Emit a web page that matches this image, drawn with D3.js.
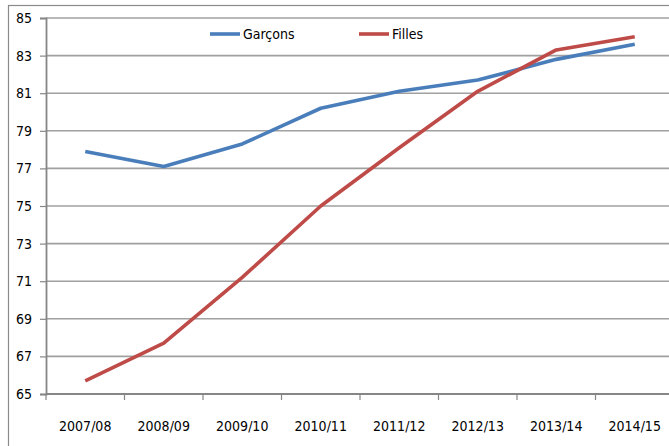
<!DOCTYPE html>
<html>
<head>
<meta charset="utf-8">
<script src="https://cdn.jsdelivr.net/npm/d3@7"></script>
<style>
  html, body { margin: 0; padding: 0; background: #fff; overflow: hidden; }
  svg text { font-family: "DejaVu Sans Condensed", "DejaVu Sans", sans-serif; font-stretch: condensed; font-size: 14px; fill: #000; }
</style>
</head>
<body>
<div id="chart"></div>
<script>
const years = ["2007/08", "2008/09", "2009/10", "2010/11", "2011/12", "2012/13", "2013/14", "2014/15"];
const garcons = [77.9, 77.1, 78.3, 80.2, 81.1, 81.7, 82.8, 83.6];
const filles = [65.7, 67.7, 71.2, 75.0, 78.1, 81.1, 83.3, 84.0];
const yTicks = [65, 67, 69, 71, 73, 75, 77, 79, 81, 83, 85];
const seriesNames = ["Garçons", "Filles"];
const colors = ["#4a7ebb", "#be4b48"];

const width = 669, height = 446;
const margin = { top: 18, right: -5, bottom: 52, left: 46 };

const svg = d3.select("#chart").append("svg").attr("width", width).attr("height", height);

// outer chart frame
svg.append("rect")
  .attr("x", 8.5).attr("y", 5.5)
  .attr("width", width + 10).attr("height", height + 10)
  .attr("fill", "none").attr("stroke", "#8a8a8a").attr("stroke-width", 1.2);

const x = d3.scaleBand().domain(years).range([margin.left, width - margin.right]);
const y = d3.scaleLinear().domain([65, 85]).range([height - margin.bottom, margin.top]);

// gridlines
svg.append("g")
  .selectAll("line")
  .data(yTicks.slice(1))
  .join("line")
  .attr("x1", margin.left).attr("x2", width - margin.right)
  .attr("y1", (d) => y(d)).attr("y2", (d) => y(d))
  .attr("stroke", "#a0a0a0").attr("stroke-width", 1.6);

// y axis
const yAxis = svg.append("g")
  .attr("transform", `translate(${margin.left},0)`)
  .call(d3.axisLeft(y).tickValues(yTicks).tickSize(6).tickPadding(8));
yAxis.select(".domain").attr("stroke", "#868686").attr("stroke-width", 1.8);
yAxis.selectAll(".tick line").attr("stroke", "#868686").attr("stroke-width", 1.2);
yAxis.selectAll("text").attr("font-size", null);
yAxis.attr("font-size", null).attr("font-family", null);

// x axis: line, boundary ticks, centred labels
const xg = svg.append("g");
xg.append("line")
  .attr("x1", margin.left).attr("x2", width - margin.right)
  .attr("y1", y(65)).attr("y2", y(65))
  .attr("stroke", "#868686").attr("stroke-width", 1.8);
xg.selectAll("line.tk")
  .data(years)
  .join("line")
  .attr("class", "tk")
  .attr("x1", (d) => x(d)).attr("x2", (d) => x(d))
  .attr("y1", y(65)).attr("y2", y(65) + 6)
  .attr("stroke", "#868686").attr("stroke-width", 1.2);
xg.selectAll("text")
  .data(years)
  .join("text")
  .attr("x", (d) => x(d) + x.bandwidth() / 2)
  .attr("y", y(65) + 37)
  .attr("text-anchor", "middle")
  .text((d) => d);

// lines
const line = d3.line()
  .x((d, i) => x(years[i]) + x.bandwidth() / 2)
  .y((d) => y(d));

[garcons, filles].forEach((vals, i) => {
  svg.append("path")
    .datum(vals)
    .attr("fill", "none")
    .attr("stroke", colors[i])
    .attr("stroke-width", 3.6)
    .attr("stroke-linejoin", "round")
    .attr("d", line);
});

// legend
const legend = svg.append("g");
const legendX = [210, 359];
seriesNames.forEach((name, i) => {
  legend.append("line")
    .attr("x1", legendX[i]).attr("x2", legendX[i] + 30)
    .attr("y1", 34).attr("y2", 34)
    .attr("stroke", colors[i]).attr("stroke-width", 3.6);
  legend.append("text")
    .attr("x", legendX[i] + 33)
    .attr("y", 39)
    .text(name);
});
</script>
</body>
</html>
